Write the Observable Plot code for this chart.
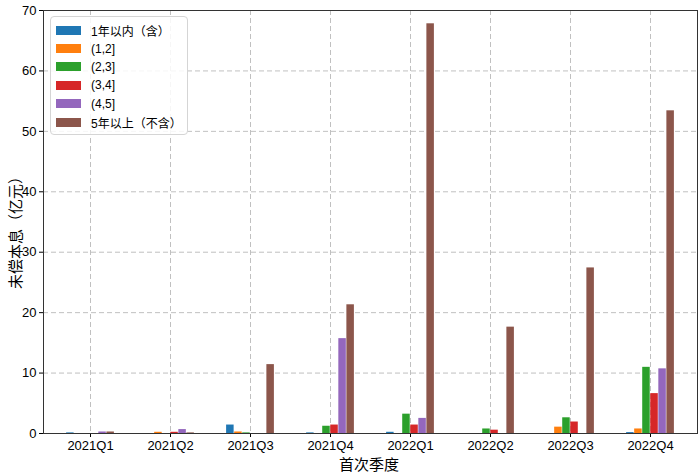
<!DOCTYPE html>
<html><head><meta charset="utf-8">
<script src="https://cdn.jsdelivr.net/npm/d3@7"></script>
<script src="https://cdn.jsdelivr.net/npm/@observablehq/plot@0.6"></script>
<style>
body{margin:0;background:#fff;font-family:"Liberation Sans","Noto Sans CJK SC",sans-serif;}
#wrap{position:relative;width:700px;height:474px;}
#legend{position:absolute;left:50px;top:16px;width:136px;padding:4px 0 3px 0;background:rgba(255,255,255,0.85);border:1px solid #d5d5d5;border-radius:4px;font-size:12px;font-family:"Liberation Sans","Noto Sans CJK SC",sans-serif;}
.row{display:flex;align-items:center;height:18.4px;}
.sw{width:25px;height:9px;margin:0 10px 0 5px;}
.lab{position:absolute;font-size:15px;line-height:1;font-family:"Noto Sans CJK SC",sans-serif;color:#000;white-space:nowrap;transform-origin:50% 50%;}
</style></head>
<body><div id="wrap"></div>
<script>
const quarters = ["2021Q1","2021Q2","2021Q3","2021Q4","2022Q1","2022Q2","2022Q3","2022Q4"];
const seriesNames = ["1年以内（含）","(1,2]","(2,3]","(3,4]","(4,5]","5年以上（不含）"];
const s0 = [0.1, 0, 1.4, 0.1, 0.2, 0, 0, 0.15];
const s1 = [0, 0.2, 0.25, 0, 0, 0, 1.05, 0.75];
const s2 = [0, 0, 0.1, 1.2, 3.2, 0.75, 2.6, 10.95];
const s3 = [0, 0.2, 0, 1.4, 1.4, 0.55, 1.9, 6.6];
const s4 = [0.25, 0.65, 0, 15.7, 2.5, 0, 0, 10.7];
const s5 = [0.25, 0.1, 11.4, 21.3, 67.8, 17.6, 27.4, 53.4];
const yTicks = [0,10,20,30,40,50,60,70];
const colors = ["#1f77b4","#ff7f0e","#2ca02c","#d62728","#9467bd","#8c564b"];
const xLabel = "首次季度";
const yLabel = "未偿本息（亿元）";

const seriesValues = [s0,s1,s2,s3,s4,s5];
const W = 700, H = 474, mL = 43, mR = 3, mT = 10, mB = 41;
const padOuter = 0.06;
const step = (W - mL - mR) / (quarters.length + 2*padOuter);
const bw = step / 10;
const n = seriesNames.length;

const barMarks = seriesValues.map((vals, k) => {
  const rows = quarters.map((q, i) => ({quarter: q, value: vals[i]}));
  return Plot.barY(rows, {
    x: "quarter", y: "value", fill: colors[k],
    insetLeft: step/2 + (k - n/2)*bw,
    insetRight: step/2 - (k - n/2 + 1)*bw
  });
});

const chart = Plot.plot({
  width: W, height: H,
  marginLeft: mL, marginRight: mR, marginTop: mT, marginBottom: mB,
  style: {fontSize: "13px", fontFamily: "'Liberation Sans','Noto Sans CJK SC',sans-serif", color: "#000", background: "#fff"},
  x: {domain: quarters, paddingInner: 0, paddingOuter: padOuter},
  y: {domain: [0, 70]},
  marks: [
    Plot.gridY(yTicks, {stroke: "#b0b0b0", strokeOpacity: 0.8, strokeDasharray: "5,3"}),
    Plot.gridX({stroke: "#b0b0b0", strokeOpacity: 0.8, strokeDasharray: "5,3"}),
    ...barMarks,
    Plot.axisY(yTicks, {tickSize: 4, tickPadding: 3, label: null, fontSize: 13}),
    Plot.axisX({tickSize: 4, tickPadding: 3, label: null, fontSize: 13}),
    Plot.frame({stroke: "#333"})
  ]
});
const wrap = document.getElementById("wrap");
wrap.appendChild(chart);

const leg = document.createElement("div");
leg.id = "legend";
seriesNames.forEach((name, k) => {
  const r = document.createElement("div"); r.className = "row";
  const sw = document.createElement("div"); sw.className = "sw"; sw.style.background = colors[k];
  const t = document.createElement("span"); t.textContent = name;
  r.appendChild(sw); r.appendChild(t); leg.appendChild(r);
});
wrap.appendChild(leg);

const xl = document.createElement("div"); xl.className = "lab"; xl.textContent = xLabel;
xl.style.left = "369px"; xl.style.top = "463px"; xl.style.transform = "translate(-50%,-50%)";
wrap.appendChild(xl);
const yl = document.createElement("div"); yl.className = "lab"; yl.textContent = yLabel;
yl.style.left = "14px"; yl.style.top = "229px"; yl.style.transform = "translate(-50%,-50%) rotate(-90deg)";
wrap.appendChild(yl);
</script></body></html>
